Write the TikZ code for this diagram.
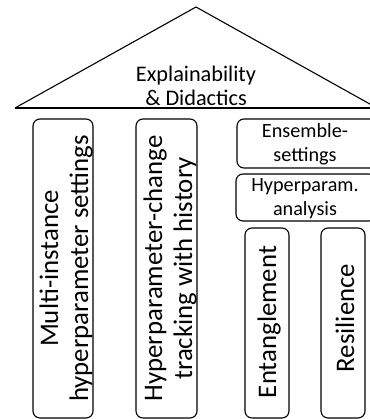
\documentclass[tikz,border=0pt]{standalone}
\usepackage{fontspec}
\setmainfont{Carlito}
\begin{document}
\begin{tikzpicture}[x=1pt,y=-1pt,
  pillar/.style={draw, rounded corners=7pt, line width=1.1pt, inner sep=0pt},
  bigtext/.style={rotate=90, align=center, inner sep=0pt, font=\fontsize{26.8}{30}\selectfont},
  smalltext/.style={align=center, inner sep=0pt, font=\fontsize{20.2}{24}\selectfont},
  roofline/.style={line width=1.1pt}]
\useasboundingbox (0,0) rectangle (369,419);
% roof
\coordinate (apex) at (196,7);
\coordinate (bl) at (15,108);
\coordinate (br) at (377,108);
\draw[roofline] (bl) -- (apex) -- (br);
\draw[line width=1.8pt] (bl) -- (br);
\node[align=center, inner sep=0pt, font=\fontsize{22.3}{24}\selectfont] (roof) at (196,86) {Explainability\\\& Didactics};
% pillars
\node[pillar, minimum width=60pt, minimum height=299pt] (b1) at (63,268.5) {};
\node[bigtext] (t1) at (66,268.5) {Multi-instance\\hyperparameter settings};
\node[pillar, minimum width=61pt, minimum height=299pt] (b2) at (166.5,268.5) {};
\node[bigtext] (t2) at (170,268.5) {Hyperparameter-change\\tracking with history};
\node[pillar, minimum width=140pt, minimum height=49pt] (b3) at (307,143.5) {};
\node[smalltext] (t3) at (305,144.5) {Ensemble-\\settings};
\node[pillar, minimum width=140pt, minimum height=47pt] (b4) at (306,197.5) {};
\node[smalltext] (t4) at (305,198.5) {Hyperparam.\\analysis};
\node[pillar, minimum width=44pt, minimum height=190pt] (b5) at (267,323) {};
\node[bigtext] (t5) at (269,322) {Entanglement};
\node[pillar, minimum width=44pt, minimum height=190pt] (b6) at (343,323) {};
\node[bigtext] (t6) at (345,318) {Resilience};
\end{tikzpicture}
\end{document}
